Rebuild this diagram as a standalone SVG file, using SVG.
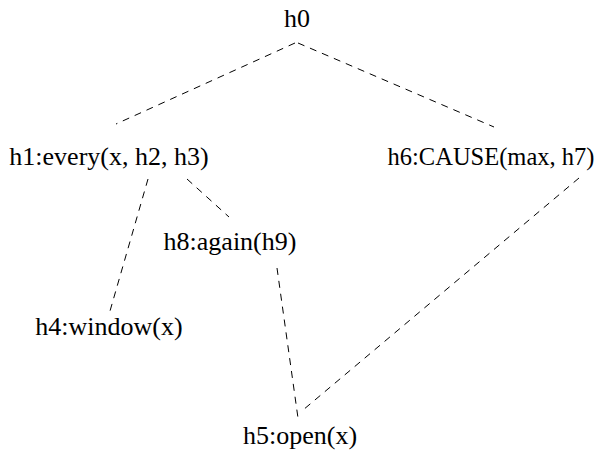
<svg xmlns="http://www.w3.org/2000/svg" width="602" height="453" viewBox="0 0 602 453">
<style>
text { font-family: "Liberation Serif", "DejaVu Serif", serif; font-size: 26px; fill: #000; text-anchor: middle; }
.c line { stroke: #000; stroke-width: 1; stroke-dasharray: 7 6; fill: none; }
</style>
<rect width="602" height="453" fill="#fff"/>
<g class="c" id="connectors">
<line x1="295" y1="43" x2="116" y2="124"/>
<line x1="298" y1="43" x2="494" y2="127"/>
<line x1="148" y1="179" x2="110" y2="311"/>
<line x1="187" y1="179" x2="229" y2="217"/>
<line x1="277" y1="268" x2="298" y2="418"/>
<line x1="579" y1="178" x2="303" y2="410"/>
</g>
<g id="h0"><text x="297" y="27">h0</text></g>
<g id="h1"><text x="109" y="165">h1:every(x, h2, h3)</text></g>
<g id="h6"><text x="491" y="165" style="font-size:24.5px">h6:CAUSE(max, h7)</text></g>
<g id="h8"><text x="230" y="250">h8:again(h9)</text></g>
<g id="h4"><text x="109" y="335">h4:window(x)</text></g>
<g id="h5"><text x="300" y="444">h5:open(x)</text></g>
</svg>
